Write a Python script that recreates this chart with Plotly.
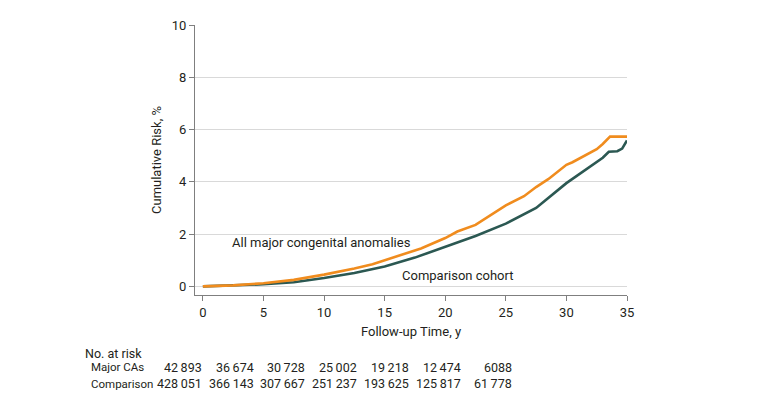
import plotly.graph_objects as go

# Cumulative risk curves
ca_t = [0, 2.5, 5, 7.5, 10, 12.5, 14, 15, 17.5, 18, 20, 21, 22.5, 23.5, 25, 26.5, 27.5, 28.5, 30, 30.5, 31.5, 32.5, 33, 33.6, 35]
ca_risk = [0, 0.04, 0.12, 0.25, 0.45, 0.68, 0.85, 1.0, 1.35, 1.45, 1.85, 2.1, 2.35, 2.65, 3.1, 3.45, 3.8, 4.1, 4.65, 4.75, 5.0, 5.25, 5.45, 5.73, 5.73]

cmp_t = [0, 2.5, 5, 7.5, 10, 12.5, 15, 17.5, 20, 22.5, 25, 27.5, 30, 31, 32, 33, 33.5, 34.2, 34.6, 35]
cmp_risk = [0, 0.03, 0.08, 0.16, 0.32, 0.51, 0.76, 1.1, 1.5, 1.93, 2.4, 3.0, 3.95, 4.27, 4.58, 4.92, 5.15, 5.17, 5.27, 5.58]

# Numbers at risk
risk_times = [0, 5, 10, 15, 20, 25, 30]
risk_major = ["42\u2009893", "36\u2009674", "30\u2009728", "25\u2009002", "19\u2009218", "12\u2009474", "6088"]
risk_comparison = ["428\u2009051", "366\u2009143", "307\u2009667", "251\u2009237", "193\u2009625", "125\u2009817", "61\u2009778"]

x_ticks = [0, 5, 10, 15, 20, 25, 30, 35]
y_ticks = [0, 2, 4, 6, 8, 10]

ORANGE = "#F08C1E"
TEAL = "#2B5852"
FONT = "Roboto, sans-serif"
TXT = "#231f20"

fig = go.Figure()
fig.add_trace(go.Scatter(x=cmp_t, y=cmp_risk, mode="lines",
                         line=dict(color=TEAL, width=2.6), showlegend=False))
fig.add_trace(go.Scatter(x=ca_t, y=ca_risk, mode="lines",
                         line=dict(color=ORANGE, width=2.6), showlegend=False))

fig.update_layout(
    width=772, height=397,
    margin=dict(l=187, r=153, t=10, b=110),
    plot_bgcolor="white", paper_bgcolor="white",
    font=dict(family=FONT, size=13, color=TXT),
    xaxis=dict(range=[-0.65, 35], tickvals=x_ticks, showgrid=False, zeroline=False,
               showline=True, linecolor="#7f7f7f", linewidth=1,
               ticks="outside", ticklen=5, tickcolor="#7f7f7f",
               title=dict(text="Follow-up Time, y", standoff=8, font=dict(size=13))),
    yaxis=dict(range=[-0.33, 10], tickvals=y_ticks, showgrid=True, gridcolor="#d9d9d9",
               zeroline=False, showline=True, linecolor="#7f7f7f", linewidth=1,
               ticks="outside", ticklen=5, tickcolor="#7f7f7f",
               title=dict(text="Cumulative Risk, %", standoff=7, font=dict(size=13))),
)

ann = []
ann.append(dict(x=2.2, y=1.68, xref="x", yref="y", text="All major congenital anomalies",
                showarrow=False, xanchor="left", yanchor="middle", font=dict(size=13)))
ann.append(dict(x=16.3, y=0.41, xref="x", yref="y", text="Comparison cohort",
                showarrow=False, xanchor="left", yanchor="middle", font=dict(size=13)))

ann.append(dict(x=-0.259, y=-0.217, xref="paper", yref="paper", text="No. at risk",
                showarrow=False, xanchor="left", yanchor="middle", font=dict(size=12.5)))
ann.append(dict(x=-0.245, y=-0.267, xref="paper", yref="paper", text="Major CAs",
                showarrow=False, xanchor="left", yanchor="middle", font=dict(size=11.5)))
ann.append(dict(x=-0.245, y=-0.329, xref="paper", yref="paper", text="Comparison",
                showarrow=False, xanchor="left", yanchor="middle", font=dict(size=11.5)))
for t, a, b in zip(risk_times, risk_major, risk_comparison):
    xp = t * 0.854 + 0.08
    ann.append(dict(x=xp, y=-0.267, xref="x", yref="paper", text=a,
                    showarrow=False, xanchor="right", yanchor="middle", font=dict(size=12.5)))
    ann.append(dict(x=xp, y=-0.329, xref="x", yref="paper", text=b,
                    showarrow=False, xanchor="right", yanchor="middle", font=dict(size=12.5)))
fig.update_layout(annotations=ann)

fig.write_html("out.html")
